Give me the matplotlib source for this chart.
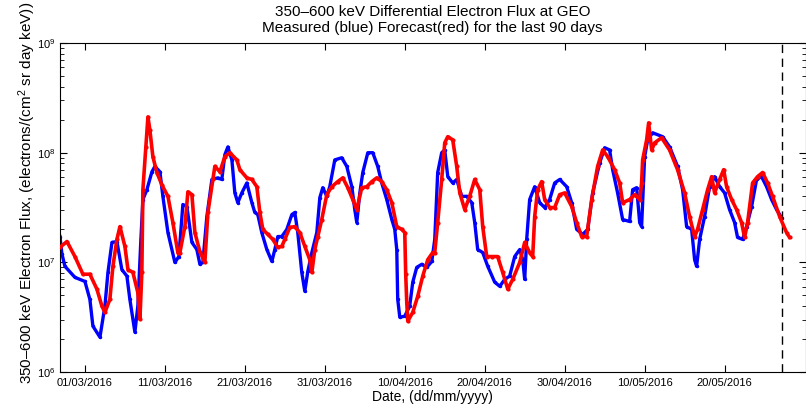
import numpy as np
import matplotlib
matplotlib.use("Agg")
import matplotlib.pyplot as plt
import matplotlib.dates as mdates
from matplotlib.ticker import LogLocator, NullFormatter

plt.rcParams["font.family"] = ["Liberation Sans", "DejaVu Sans"]
plt.rcParams["mathtext.fontset"] = "custom"
plt.rcParams["mathtext.rm"] = "Liberation Sans"
plt.rcParams["mathtext.it"] = "Liberation Sans"

# days since 01/03/2016, flux in electrons/(cm^2 sr day keV)
meas_day = [-3.12, -2.88, -2.5, -1.25, 0.0, 0.62, 1.0, 1.88, 2.5, 2.88, 3.38, 4.0, 4.62, 5.25, 5.62,
            6.25, 6.62, 7.0, 7.25, 7.75, 8.38, 8.75, 9.38, 9.75, 10.38, 11.25, 11.75, 12.25, 12.75,
            13.38, 14.0, 14.38, 14.75, 15.25, 15.88, 16.62, 17.12, 17.5, 17.88, 18.38, 18.75, 19.12,
            19.62, 20.25, 20.88, 21.25, 21.62, 22.12, 22.75, 23.38, 23.75, 24.12, 24.62, 25.25, 25.88,
            26.25, 26.62, 27.12, 27.5, 27.88, 28.38, 29.0, 29.38, 29.75, 30.25, 30.62, 31.25, 32.12,
            32.75, 33.38, 33.75, 34.0, 34.38, 34.75, 35.38, 36.0, 36.62, 37.12, 37.75, 38.38, 38.75,
            39.0, 39.12, 39.38, 40.0, 40.62, 41.0, 41.5, 42.12, 42.75, 43.38, 43.75, 44.12, 44.62,
            45.0, 45.38, 46.0, 46.5, 47.12, 47.75, 48.38, 48.75, 49.12, 49.75, 50.38, 51.25, 51.88,
            52.5, 53.12, 53.75, 54.38, 54.75, 55.0, 55.25, 55.62, 56.25, 56.88, 57.5, 58.12, 58.75,
            59.38, 60.25, 60.88, 61.5, 62.25, 62.88, 63.5, 64.38, 65.0, 65.62, 66.0, 66.62, 67.25,
            68.12, 68.5, 69.0, 69.38, 69.62, 70.0, 70.38, 71.0, 72.25, 73.12, 74.12, 74.75, 75.25,
            75.88, 76.25, 76.5, 76.88, 77.5, 78.12, 78.75, 79.38, 80.0, 80.62, 81.25, 81.62, 82.25,
            82.75, 83.38, 84.0, 84.62, 85.25, 85.88, 86.5, 87.12]
meas_flux = [1.72e7, 1.2e7, 9.2e6, 7.3e6, 6.7e6, 4.6e6, 2.62e6, 2.08e6, 4.0e6, 8.1e6, 1.52e7, 1.55e7,
             8.6e6, 7.5e6, 4.6e6, 2.31e6, 4.0e6, 1.62e7, 3.74e7, 4.6e7, 6.7e7, 7.5e7, 6.7e7, 4.0e7,
             1.87e7, 1.0e7, 1.13e7, 3.37e7, 3.23e7, 1.52e7, 1.31e7, 9.6e6, 1.0e7, 2.62e7, 5.7e7,
             5.9e7, 5.7e7, 9.6e7, 1.13e8, 8.6e7, 4.3e7, 3.5e7, 4.3e7, 5.3e7, 3.5e7, 2.85e7, 2.73e7,
             1.87e7, 1.31e7, 1.02e7, 1.31e7, 1.72e7, 1.72e7, 2.0e7, 2.73e7, 2.85e7, 1.87e7, 8.1e6,
             5.45e6, 8.3e6, 1.23e7, 1.87e7, 3.9e7, 4.8e7, 4.0e7, 4.9e7, 8.6e7, 9.0e7, 7.5e7, 4.9e7,
             3.03e7, 2.31e7, 4.3e7, 6.6e7, 1.0e8, 1.0e8, 7.5e7, 5.3e7, 3.74e7, 2.46e7, 2.0e7, 1.31e7,
             4.6e6, 3.16e6, 3.23e6, 4.0e6, 6.6e6, 9.0e6, 9.6e6, 9.0e6, 1.02e7, 1.62e7, 6.6e7, 1.0e8,
             1.06e8, 6.05e7, 5.3e7, 5.7e7, 4.0e7, 4.0e7, 3.5e7, 2.31e7, 1.31e7, 1.23e7, 9.2e6, 6.6e6,
             6.05e6, 7.0e6, 7.5e6, 1.13e7, 1.31e7, 1.06e7, 7.0e6, 1.62e7, 3.74e7, 4.9e7, 3.5e7,
             3.16e7, 3.74e7, 5.3e7, 5.7e7, 4.9e7, 3.5e7, 2.0e7, 1.8e7, 2.0e7, 4.3e7, 8.1e7, 1.11e8,
             1.06e8, 7.0e7, 4.3e7, 2.46e7, 2.36e7, 4.6e7, 4.8e7, 2.31e7, 2.12e7, 9.2e7, 1.31e8,
             1.52e8, 1.40e8, 1.13e8, 7.5e7, 4.6e7, 2.12e7, 2.0e7, 1.06e7, 9.2e6, 1.62e7, 2.62e7,
             4.9e7, 6.05e7, 4.9e7, 4.3e7, 3.03e7, 2.31e7, 1.69e7, 1.62e7, 2.12e7, 3.23e7, 5.7e7,
             6.05e7, 4.9e7, 3.74e7, 3.03e7, 2.56e7]

fcst_day = [-3.38, -3.12, -2.25, -1.25, -0.25, 0.62, 1.5, 2.12, 2.5, 3.12, 3.5, 4.0, 4.38, 5.0, 5.38,
            6.0, 6.62, 6.88, 7.12, 7.25, 7.62, 7.88, 8.12, 8.5, 9.0, 9.62, 10.38, 11.0, 11.62, 11.88,
            12.5, 12.88, 13.38, 13.75, 14.38, 15.0, 15.38, 16.0, 16.25, 16.88, 17.5, 18.12, 19.0,
            19.38, 20.25, 20.88, 21.5, 21.88, 22.25, 22.88, 23.5, 24.12, 24.62, 25.0, 25.62, 26.25,
            26.88, 27.5, 28.12, 28.38, 28.75, 29.12, 29.62, 30.25, 30.88, 31.62, 32.25, 32.88, 33.5,
            34.0, 34.62, 35.25, 35.88, 36.5, 37.12, 37.75, 38.38, 39.0, 39.62, 40.0, 40.12, 40.25,
            40.38, 41.0, 41.62, 42.25, 42.88, 43.5, 43.75, 44.12, 44.62, 45.0, 45.38, 46.0, 46.5,
            46.88, 47.5, 48.12, 48.75, 49.38, 49.75, 50.25, 50.88, 51.62, 52.25, 52.88, 53.5, 54.38,
            55.0, 55.62, 56.0, 56.25, 56.62, 57.12, 57.5, 58.12, 58.75, 59.38, 60.0, 60.88, 61.5,
            62.12, 62.75, 63.38, 64.12, 64.75, 65.38, 66.25, 66.88, 67.25, 68.12, 68.75, 69.38,
            69.62, 69.75, 70.25, 70.5, 70.88, 71.25, 72.12, 73.12, 74.12, 75.0, 75.62, 76.25, 76.62,
            77.25, 77.88, 78.38, 78.75, 79.38, 79.88, 80.25, 80.88, 81.5, 82.12, 82.5, 82.88, 83.5,
            84.12, 84.75, 85.38, 86.0, 86.88, 87.75, 88.12]
fcst_flux = [1.37e7, 1.37e7, 1.55e7, 1.13e7, 7.8e6, 7.8e6, 5.7e6, 4.0e6, 3.5e6, 4.6e6, 9.2e6, 1.62e7,
             2.12e7, 1.40e7, 8.6e6, 8.1e6, 5.3e6, 3.03e6, 8.1e6, 4.6e7, 1.13e8, 2.12e8, 1.62e8,
             9.2e7, 6.6e7, 5.1e7, 4.0e7, 2.31e7, 1.23e7, 1.23e7, 2.12e7, 4.4e7, 4.15e7, 1.87e7,
             1.25e7, 1.0e7, 2.85e7, 5.7e7, 7.5e7, 6.7e7, 9.2e7, 1.0e8, 8.6e7, 7.0e7, 5.9e7, 5.7e7,
             4.9e7, 2.85e7, 2.0e7, 1.8e7, 1.62e7, 1.37e7, 1.40e7, 1.62e7, 2.08e7, 2.12e7, 1.87e7,
             1.40e7, 1.06e7, 8.1e6, 1.31e7, 1.72e7, 2.46e7, 4.15e7, 4.9e7, 5.45e7, 5.9e7, 4.8e7,
             3.74e7, 3.03e7, 4.8e7, 4.9e7, 5.45e7, 5.9e7, 5.45e7, 4.6e7, 3.5e7, 2.12e7, 2.0e7,
             1.87e7, 7.8e6, 4.3e6, 2.91e6, 3.5e6, 4.9e6, 7.5e6, 1.06e7, 1.23e7, 1.23e7, 2.31e7,
             5.7e7, 1.23e8, 1.40e8, 1.31e8, 7.5e7, 4.3e7, 3.03e7, 4.0e7, 5.7e7, 4.6e7, 2.12e7,
             1.13e7, 1.13e7, 1.13e7, 8.1e6, 5.7e6, 7.0e6, 1.0e7, 1.52e7, 1.23e7, 1.13e7, 2.62e7,
             4.6e7, 5.45e7, 3.74e7, 3.16e7, 3.16e7, 4.15e7, 4.3e7, 3.23e7, 2.31e7, 1.72e7, 1.72e7,
             3.74e7, 7.5e7, 1.06e8, 9.2e7, 7.0e7, 5.3e7, 3.5e7, 3.74e7, 4.15e7, 3.74e7, 5.3e7,
             8.6e7, 1.31e8, 1.87e8, 1.06e8, 1.23e8, 1.37e8, 1.06e8, 7.0e7, 4.3e7, 2.62e7, 1.72e7,
             2.0e7, 3.03e7, 4.6e7, 6.05e7, 4.3e7, 5.7e7, 7.0e7, 4.9e7, 3.74e7, 3.03e7, 2.31e7,
             1.69e7, 2.31e7, 5.3e7, 6.05e7, 6.6e7, 5.3e7, 4.0e7, 2.62e7, 1.87e7, 1.69e7]

now_day = 87.12          # dashed line: end of measurements
tick_days = [0, 10, 20, 30, 40, 50, 60, 70, 80]
xlim_days = (-3.12, 90.12)
ylim = (1e6, 1e9)

t0 = np.datetime64("2016-03-01T00:00")


def to_time(days):
    return t0 + np.round(np.asarray(days, dtype=float) * 1440).astype("timedelta64[m]")


fig = plt.figure(figsize=(8.06, 4.12), dpi=100)
ax = fig.add_axes([0.0744, 0.097, 0.925, 0.7985])

ax.plot(to_time(meas_day), meas_flux, "-", color="#0000ff", lw=2.4,
        marker=".", ms=3, zorder=2)
ax.plot(to_time(fcst_day), fcst_flux, "-", color="#ff0000", lw=2.6,
        marker=".", ms=4, zorder=3)
ax.axvline(to_time([now_day])[0], color="k", ls=(0, (6, 4)), lw=1.0)

ax.set_yscale("log")
ax.set_ylim(*ylim)
ax.set_xlim(to_time(xlim_days[0]), to_time(xlim_days[1]))
ax.set_xticks(to_time(tick_days))
ax.xaxis.set_major_formatter(mdates.DateFormatter("%d/%m/%Y"))
ax.yaxis.set_minor_locator(LogLocator(base=10, subs=np.arange(2, 10)))
ax.yaxis.set_minor_formatter(NullFormatter())

ax.tick_params(which="both", direction="in", top=True, right=True, labelsize=8)
ax.tick_params(which="major", length=5, width=0.8)
ax.tick_params(which="minor", length=3, width=0.6)
ax.tick_params(axis="x", pad=4)
for s in ax.spines.values():
    s.set_linewidth(0.8)

ax.set_title("350\u2013600 keV Differential Electron Flux at GEO\n"
             "Measured (blue) Forecast(red) for the last 90 days",
             fontsize=11, pad=8, linespacing=1.15)
ax.set_xlabel("Date, (dd/mm/yyyy)", fontsize=10, labelpad=2)
ax.set_ylabel("350\u2013600 keV Electron Flux, (electrons/(cm$^2$ sr day keV))",
              fontsize=11, va="center")
ax.yaxis.set_label_coords(-0.044, 0.544)

fig.savefig("out.png", dpi=100)
